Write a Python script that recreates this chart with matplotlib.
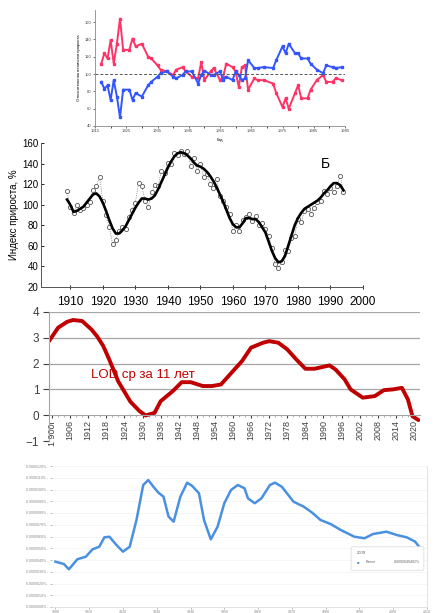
"""
Four stacked panels: relative growth (red/blue), growth index, LOD 11-yr mean, ngram-like curve.
"""

import matplotlib.pyplot as plt
from matplotlib.patches import FancyBboxPatch

plt.rcParams['font.family'] = ['Liberation Sans', 'DejaVu Sans']

# panel 1: relative growth, two mirrored series
years1 = [1917, 1918, 1919, 1920, 1921, 1922, 1923, 1924, 1926, 1927,
          1928, 1930, 1932, 1933, 1935, 1936, 1938, 1940, 1941, 1943,
          1944, 1946, 1948, 1949, 1950, 1952, 1953, 1955, 1956, 1957,
          1959, 1960, 1961, 1962, 1963, 1964, 1966, 1967, 1969, 1972,
          1973, 1975, 1976, 1977, 1979, 1980, 1981, 1983, 1984, 1986,
          1988, 1989, 1991, 1992, 1994]
red1 = [112, 124, 118, 139, 112, 135, 164, 128, 128, 141,
        132, 135, 120, 118, 110, 105, 103, 99, 105, 108,
        103, 97, 95, 114, 93, 103, 107, 93, 97, 112,
        108, 103, 85, 108, 110, 82, 95, 93, 93, 89,
        78, 62, 72, 60, 78, 87, 72, 72, 82, 93,
        99, 91, 91, 95, 93]
blue1 = [91, 83, 87, 70, 93, 74, 50, 82, 82, 70,
         78, 74, 87, 91, 97, 101, 103, 97, 95, 99,
         103, 103, 89, 99, 104, 99, 99, 103, 93, 97,
         93, 103, 99, 93, 95, 116, 107, 107, 108, 107,
         116, 132, 124, 135, 124, 124, 118, 118, 112, 105,
         101, 110, 108, 107, 108]
ticks1 = [1915, 1925, 1935, 1945, 1955, 1965, 1975, 1985, 1995]

# panel 2: growth index, smoothed curve and yearly points
years2 = list(range(1909, 1995))
smooth2 = [105, 100, 93, 94, 96, 98, 102, 106, 110, 111,
           108, 102, 94, 85, 77, 72, 72, 75, 79, 85,
           91, 97, 102, 106, 106, 105, 106, 109, 115, 122,
           129, 136, 142, 147, 150, 151, 150, 148, 145, 141,
           138, 137, 135, 132, 128, 123, 117, 110, 103, 95,
           87, 81, 78, 78, 82, 87, 87, 86, 86, 83,
           78, 73, 64, 55, 48, 44, 45, 50, 60, 70,
           80, 87, 92, 96, 98, 100, 102, 104, 107, 111,
           114, 118, 121, 121, 119, 114]
points2 = [113, 98, 92, 100, 95, 97, 100, 103, 114, 118,
           127, 104, 90, 78, 62, 66, 74, 78, 76, 88,
           95, 102, 121, 118, 104, 98, 112, 119, 118, 133,
           131, 141, 140, 150, 148, 152, 149, 152, 138, 145,
           133, 140, 127, 130, 120, 116, 125, 108, 104, 98,
           91, 74, 80, 74, 85, 88, 91, 84, 89, 80,
           82, 76, 70, 58, 42, 38, 44, 56, 55, 68,
           70, 86, 83, 94, 96, 91, 97, 103, 104, 113,
           110, 116, 112, 118, 128, 112]

# panel 3: LOD, 11-year mean
years3 = [1899, 1902, 1905, 1907, 1910, 1913, 1915, 1917, 1919, 1922,
          1926, 1929, 1931, 1934, 1936, 1940, 1943, 1946, 1950, 1953,
          1956, 1959, 1963, 1966, 1970, 1972, 1975, 1978, 1981, 1984,
          1987, 1992, 1994, 1997, 1999, 2003, 2007, 2010, 2013, 2016,
          2018, 2019.5, 2021.5]
lod3 = [2.87, 3.39, 3.62, 3.69, 3.65, 3.33, 3.05, 2.68, 2.15, 1.30,
        0.52, 0.16, -0.01, 0.09, 0.54, 0.93, 1.28, 1.28, 1.13, 1.13,
        1.19, 1.58, 2.10, 2.62, 2.81, 2.87, 2.81, 2.55, 2.16, 1.80,
        1.80, 1.93, 1.77, 1.39, 1.00, 0.68, 0.74, 0.97, 1.00, 1.06,
        0.61, -0.04, -0.19]
ticks3 = list(range(1900, 2021, 6))
labels3 = ['1 900г'] + [str(y) for y in ticks3[1:]]

# panel 4: ngram-like frequency, units of 1e-7 %
years4 = [1900, 1902.5, 1904, 1906.5, 1909, 1911, 1913, 1914.5, 1916, 1918,
          1920, 1922, 1924, 1926, 1927.5, 1929, 1930.5, 1932, 1933.5, 1935,
          1937, 1939, 1940.5, 1942.5, 1944, 1946, 1948, 1950, 1952, 1954,
          1956, 1957, 1959, 1961, 1963.5, 1965, 1967, 1970.5, 1973.5, 1976,
          1978.5, 1981.5, 1984.5, 1988.5, 1991.5, 1994, 1998, 2001, 2004, 2006.5,
          2008]
freq4 = [3.86, 3.66, 3.21, 4.06, 4.28, 4.91, 5.13, 5.93, 5.98, 5.30,
         4.71, 5.13, 7.40, 10.38, 10.81, 10.24, 9.73, 9.39, 7.69, 7.26,
         9.39, 10.58, 10.30, 9.68, 7.40, 5.76, 6.83, 8.83, 9.96, 10.38,
         10.10, 9.25, 8.83, 9.25, 10.38, 10.58, 10.24, 8.96, 8.54, 8.03,
         7.40, 7.06, 6.55, 5.98, 5.85, 6.21, 6.41, 6.13, 5.93, 5.56,
         5.00]
ticks4y = list(range(0, 13))
ticks4x = list(range(1900, 2011, 10))


def rect(left, top, right, bottom):
    return [left / 437, 1 - bottom / 613, (right - left) / 437, (bottom - top) / 613]


def main():
    fig = plt.figure(figsize=(4.37, 6.13), dpi=100)

    # --- panel 1
    ax1 = fig.add_axes(rect(95, 10, 345, 126))
    ax1.plot(years1, red1, color='#ff3366', lw=1.4, marker='s', ms=1.6)
    ax1.plot(years1, blue1, color='#3355ff', lw=1.4, marker='s', ms=1.6)
    ax1.axhline(100, color='#555555', lw=0.7, ls=(0, (3, 2)))
    ax1.set_xlim(1915, 1995)
    ax1.set_ylim(40, 174)
    ax1.set_xticks(ticks1)
    ax1.set_xticks(range(1915, 1996, 5), minor=True)
    ax1.set_yticks(range(40, 161, 20))
    ax1.tick_params(labelsize=3, length=1.5, width=0.5, colors='#444444', pad=1)
    ax1.tick_params(which='minor', length=1.5, width=0.5)
    ax1.set_ylabel('Относительная величина прироста', fontsize=3, labelpad=3)
    ax1.set_xlabel('Год', fontsize=3, labelpad=3)
    for s in ['top', 'right']:
        ax1.spines[s].set_visible(False)
    for s in ['left', 'bottom']:
        ax1.spines[s].set_color('#888888')
        ax1.spines[s].set_linewidth(0.6)

    # --- panel 2
    ax2 = fig.add_axes(rect(41, 143, 363, 287))
    ax2.plot(years2, points2, color='#555555', lw=0.5, ls=':',
             marker='o', ms=3.0, mfc='white', mec='#555555', mew=0.6)
    ax2.plot(years2, smooth2, color='black', lw=1.9)
    ax2.set_xlim(1901, 2000)
    ax2.set_ylim(20, 160)
    ax2.set_xticks(range(1910, 2001, 10))
    ax2.set_yticks(range(20, 161, 20))
    ax2.tick_params(axis='x', labelsize=8.5, direction='inout', length=3, width=0.6, pad=5)
    ax2.tick_params(axis='y', labelsize=7, direction='in', length=2, width=0.6, pad=2)
    ax2.set_ylabel('Индекс прироста, %', fontsize=7, labelpad=2)
    ax2.text(0.87, 0.9, 'Б', transform=ax2.transAxes, fontsize=10, va='top')
    for s in ['top', 'right']:
        ax2.spines[s].set_visible(False)
    for s in ['left', 'bottom']:
        ax2.spines[s].set_color('#555555')
        ax2.spines[s].set_linewidth(0.7)
    ax2.patch.set_alpha(0)

    # --- panel 3
    ax3 = fig.add_axes(rect(49, 312, 420, 441))
    ax3.set_zorder(-1)
    ax3.plot(years3, lod3, color='#c00000', lw=2.8, solid_capstyle='round')
    ax3.set_xlim(1899, 2022)
    ax3.set_ylim(-1, 4)
    ax3.set_yticks(range(-1, 5))
    for v in range(1, 5):
        ax3.axhline(v, color='#a6a6a6', lw=0.9, zorder=0)
    ax3.spines['bottom'].set_position(('data', 0))
    ax3.spines['bottom'].set_color('#a6a6a6')
    ax3.spines['left'].set_color('#a6a6a6')
    for s in ['top', 'right']:
        ax3.spines[s].set_visible(False)
    ax3.set_xticks(ticks3)
    ax3.set_xticklabels(labels3, rotation=90)
    ax3.set_xticks(range(1900, 2022, 2), minor=True)
    ax3.tick_params(axis='x', labelsize=6.5, colors='#404040', length=2.5, pad=1)
    ax3.tick_params(axis='x', which='minor', length=1.5, color='#a6a6a6')
    ax3.tick_params(axis='y', labelsize=8.5, colors='#404040', length=4, pad=3)
    ax3.text(1913, 1.55, 'LOD ср за 11 лет', color='#c00000', fontsize=9.5, va='center')

    # --- panel 4
    ax4 = fig.add_axes(rect(52, 466, 427, 607))
    ax4.plot(years4, freq4, color='#4a90e2', lw=1.8)
    ax4.set_xlim(1899, 2010)
    ax4.set_ylim(0, 12)
    ax4.set_yticks(ticks4y)
    ax4.set_yticklabels(['0.{:07d}% -'.format(v * 10) for v in ticks4y])
    ax4.set_xticks(ticks4x)
    ax4.tick_params(labelsize=2.6, colors='#888888', length=1.5, width=0.4, pad=1)
    ax4.grid(axis='y', color='#f2f2f2', lw=0.5)
    for s in ['top', 'left']:
        ax4.spines[s].set_visible(False)
    for s in ['right', 'bottom']:
        ax4.spines[s].set_color('#dddddd')
        ax4.spines[s].set_linewidth(0.6)

    # tooltip box
    box = FancyBboxPatch((352 / 437, 1 - 569 / 613), 71 / 437, 21 / 613,
                         boxstyle='round,pad=0.002', transform=fig.transFigure,
                         fc='white', ec='#dddddd', lw=0.6)
    fig.patches.append(box)
    fig.text(357 / 437, 1 - 553 / 613, '2009', fontsize=3, color='#555555', va='center')
    fig.text(357 / 437, 1 - 562 / 613, '■', fontsize=3, color='#4a90e2', va='center')
    fig.text(366 / 437, 1 - 562 / 613, 'Ранее', fontsize=2.6, color='#666666', va='center')
    fig.text(420 / 437, 1 - 562 / 613, '0.0000049402%', fontsize=2.6, color='#666666',
             va='center', ha='right')

    fig.savefig('out.png', dpi=100)


if __name__ == '__main__':
    main()
